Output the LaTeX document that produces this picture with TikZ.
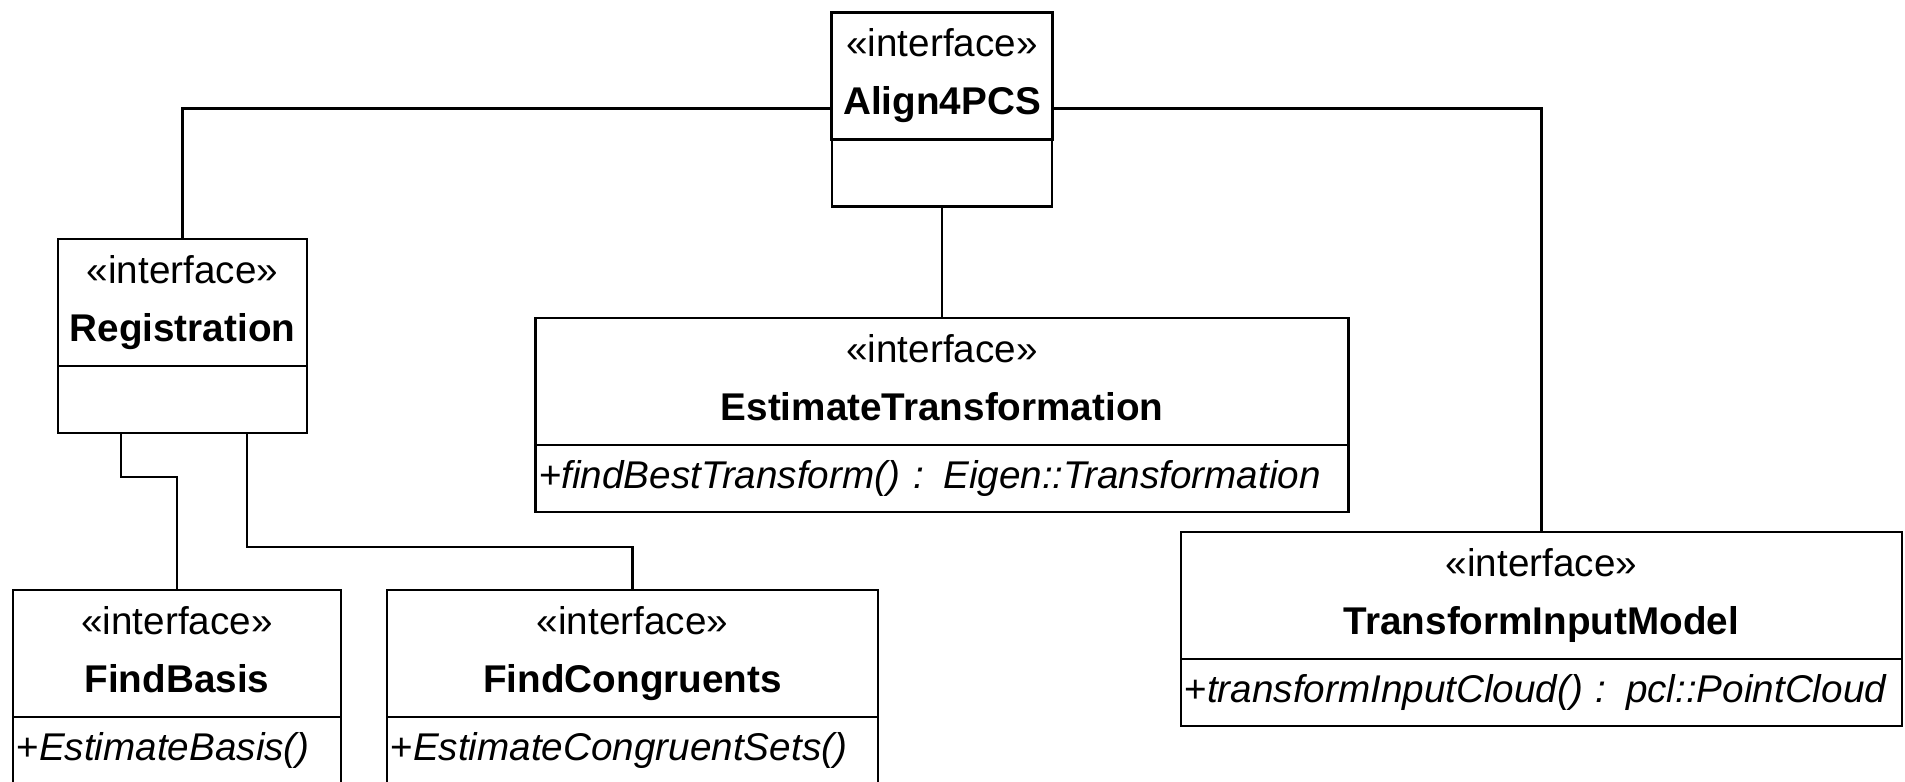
\documentclass[tikz,border=0pt]{standalone}
\usepackage{fontspec}
\setmainfont{Liberation Sans}
\usetikzlibrary{positioning}

\begin{document}
\begin{tikzpicture}[line width=0.8pt]
  \useasboundingbox (0,0) rectangle (19.05,-7.81);
  \clip (0,0) rectangle (19.05,-7.81);
  % class headers
  \begin{scope}[every node/.style={draw,outer sep=0pt,minimum height=1.27cm,align=center,font=\fontsize{11}{16.5}\selectfont,
      execute at begin node={\rule{0pt}{13pt}},execute at end node={\vphantom{g}}}]
  \node[minimum width=2.20cm] (align) at (9.42,-0.76) {«interface»\\\textbf{Align4PCS}};
  \node[minimum width=2.49cm] (reg) at (1.825,-3.025) {«interface»\\\textbf{Registration}};
  \node[minimum width=8.13cm] (est) at (9.42,-3.815) {«interface»\\\textbf{EstimateTransformation}};
  \node[minimum width=7.21cm] (tim) at (15.415,-5.955) {«interface»\\\textbf{TransformInputModel}};
  \node[minimum width=3.28cm] (basis) at (1.77,-6.535) {«interface»\\\textbf{FindBasis}};
  \node[minimum width=4.91cm] (congr) at (6.325,-6.535) {«interface»\\\textbf{FindCongruents}};
  \end{scope}
  % operations
  \begin{scope}[every node/.style={draw,outer sep=0pt,minimum height=0.67cm,inner xsep=1pt,align=left,font=\fontsize{11}{13}\selectfont}]
  \node[below=0pt of align,minimum width=2.20cm] (alignops) {};
  \node[below=0pt of reg,minimum width=2.49cm] (regops) {};
  \node[below=0pt of est,text width=8.06cm] (estops) {+\textit{findBestTransform() : Eigen::Transformation}};
  \node[below=0pt of tim,text width=7.14cm] (timops) {+\textit{transformInputCloud() : pcl::PointCloud}};
  \node[below=0pt of basis,text width=3.21cm] (basisops) {+\textit{EstimateBasis()}};
  \node[below=0pt of congr,text width=4.84cm] (congrops) {+\textit{EstimateCongruentSets()}};
  \end{scope}
  % links
  \draw ([yshift=-3.25mm]align.west) -| (reg.north);
  \draw ([yshift=-3.25mm]align.east) -| (tim.north);
  \draw (alignops.south) -- (est.north);
  \draw ([xshift=-6.15mm]regops.south) -- ++(0,-0.44) -| (basis.north);
  \draw ([xshift=6.45mm]regops.south) -- ++(0,-1.14) -| (congr.north);
\end{tikzpicture}
\end{document}
